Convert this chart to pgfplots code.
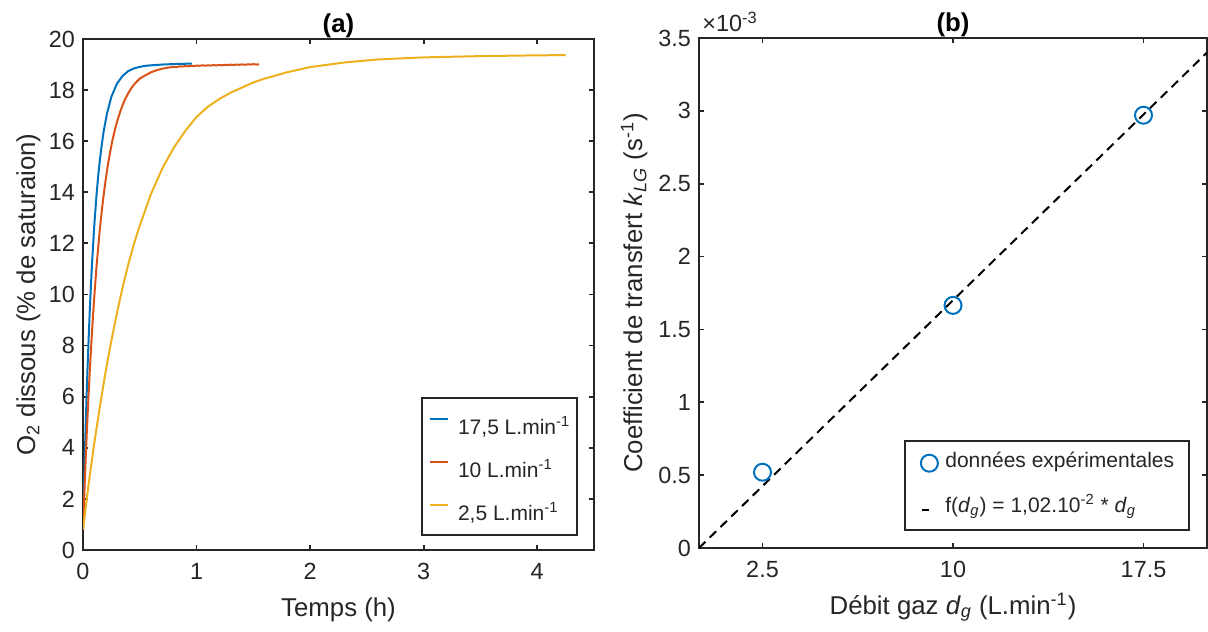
\documentclass[border=0pt]{standalone}
\usepackage{fontspec}
\setmainfont{Liberation Sans}
\usepackage{pgfplots}
\pgfplotsset{compat=1.18}
\definecolor{mblue}{rgb}{0,0.447,0.741}
\definecolor{mred}{rgb}{0.85,0.325,0.098}
\definecolor{myel}{rgb}{0.929,0.694,0.125}
\definecolor{axgray}{rgb}{0.15,0.15,0.15}
\pgfplotsset{
  mstyle/.style={
    scale only axis,
    axis line style={draw=axgray, line width=0.9pt},
    every tick/.style={draw=axgray, line width=0.9pt},
    tick align=inside,
    major tick length=2.6pt,
    tick pos=both,
    /pgf/number format/assume math mode=true,
    tick label style={font=\fontsize{11.7}{14}\selectfont, text=axgray},
    xticklabel style={yshift=-2.5pt},
    label style={font=\fontsize{12.9}{15}\selectfont, text=axgray},
    every axis title shift=0pt,
    title style={font=\bfseries\fontsize{12.9}{15}\selectfont, text=black, at={([yshift=3pt]rel axis cs:0.5,1)}, anchor=base},
    xlabel style={at={([yshift=-33pt]rel axis cs:0.5,0)}, anchor=base},
    ylabel style={anchor=base},
  }
}
\begin{document}
\fontsize{11.7}{14}\selectfont
\begin{tikzpicture}
\begin{axis}[mstyle,
  at={(41.5pt,40.5pt)}, anchor=south west,
  width=255.5pt, height=255.5pt,
  xmin=0, xmax=4.5, ymin=0, ymax=20,
  xtick={0,1,2,3,4}, ytick={0,2,4,6,8,10,12,14,16,18,20},
  xlabel={Temps (h)},
  ylabel={O\textsubscript{2} dissous (\% de saturaion)},
  ylabel style={at={([xshift=-24pt]rel axis cs:0,0.5)}},
  title={(a)},
  legend style={at={([xshift=-8pt,yshift=7pt]rel axis cs:1,0)}, anchor=south east,
    draw=axgray, line width=0.8pt, fill=white,
    font=\fontsize{10.5}{12.6}\selectfont, text=axgray,
    inner xsep=3.5pt, inner ysep=4pt, row sep=4pt, column sep=4.5pt,
    nodes={inner sep=0pt, text height=14pt, text depth=3.5pt},
    cells={anchor=west}},
  legend image code/.code={\draw[#1, line width=1pt] (0pt,2.5pt) -- (9pt,2.5pt);},
]
\addplot[mblue, line width=1pt] coordinates {
(0,0.8) (0.01,2.6) (0.02,4.29) (0.03,5.8) (0.04,7.12) (0.05,8.3) (0.06,9.41) (0.07,10.37) (0.08,11.25)
(0.09,12.0) (0.10,12.74) (0.12,13.94) (0.135,14.7) (0.15,15.32) (0.165,15.85) (0.18,16.33) (0.21,17.06)
(0.25,17.74) (0.30,18.26) (0.35,18.56) (0.40,18.75) (0.45,18.85) (0.50,18.91) (0.55,18.95)
(0.60,18.97) (0.70,19.0) (0.80,19.02) (0.90,19.03) (0.96,19.04)
};
\addlegendentry{17,5 L.min\textsuperscript{-1}}
\addplot[mred, line width=1pt] coordinates {
(0,0.8) (0.015,2.6) (0.03,4.25) (0.045,5.7) (0.06,7.04) (0.075,8.2) (0.09,9.30) (0.105,10.25) (0.12,11.14)
(0.135,11.9) (0.15,12.63) (0.165,13.25) (0.18,13.83) (0.20,14.5) (0.22,15.10) (0.24,15.6) (0.26,16.05)
(0.28,16.43) (0.30,16.77) (0.325,17.12) (0.35,17.43) (0.375,17.68) (0.40,17.89) (0.425,18.07) (0.45,18.22)
(0.475,18.34) (0.50,18.45) (0.55,18.58) (0.60,18.70) (0.65,18.78) (0.70,18.84) (0.75,18.88) (0.80,18.91)
(0.825,18.90) (0.85,18.93) (0.875,18.92) (0.90,18.94) (0.925,18.93) (0.95,18.95) (0.975,18.94) (1.00,18.96)
(1.025,18.95) (1.05,18.97) (1.075,18.955) (1.10,18.97) (1.125,18.96) (1.15,18.98) (1.175,18.965) (1.20,18.985)
(1.225,18.97) (1.25,18.99) (1.275,18.98) (1.30,18.995) (1.325,18.98) (1.35,19.0) (1.375,18.99) (1.40,19.005)
(1.425,18.99) (1.45,19.01) (1.475,19.0) (1.50,19.015) (1.525,19.0) (1.55,19.01)
};
\addlegendentry{10 L.min\textsuperscript{-1}}
\addplot[myel, line width=1pt] coordinates {
(0,0.8) (0.05,2.6) (0.1,4.2) (0.15,5.65) (0.2,7.0) (0.25,8.2) (0.3,9.3) (0.35,10.3) (0.4,11.2)
(0.45,12.0) (0.5,12.7) (0.6,13.95) (0.7,14.95) (0.8,15.75) (0.9,16.4) (1.0,16.95) (1.1,17.35)
(1.2,17.65) (1.3,17.9) (1.4,18.1) (1.5,18.3) (1.6,18.45) (1.8,18.7) (2.0,18.9) (2.3,19.08)
(2.6,19.2) (3.0,19.28) (3.5,19.33) (4.0,19.36) (4.25,19.37)
};
\addlegendentry{2,5 L.min\textsuperscript{-1}}
\end{axis}

\begin{axis}[mstyle, name=b,
  at={(349.5pt,41.5pt)}, anchor=south west,
  width=254pt, height=255pt,
  xmin=0, xmax=20, ymin=0, ymax=0.0035,
  xtick={2.5,10,17.5}, xticklabels={2.5,10,17.5},
  ytick={0,0.0005,0.001,0.0015,0.002,0.0025,0.003,0.0035},
  yticklabels={0,0.5,1,1.5,2,2.5,3,3.5},
  scaled y ticks=false,
  xlabel={Débit gaz \textit{d}\textsubscript{\textit{g}} (L.min\textsuperscript{-1})},
  ylabel={Coefficient de transfert \textit{k}\textsubscript{\textit{LG}} (s\textsuperscript{-1})},
  ylabel style={at={([xshift=-28.5pt]rel axis cs:0,0.5)}},
  title={(b)},
  legend style={at={([xshift=-8.5pt,yshift=8.5pt]rel axis cs:1,0)}, anchor=south east,
    draw=axgray, line width=0.8pt, fill=white,
    font=\fontsize{10.5}{12.6}\selectfont, text=axgray,
    inner xsep=7.5pt, inner ysep=4.5pt, row sep=9.5pt, column sep=0pt,
    nodes={inner sep=0pt, text height=8.5pt, text depth=4.5pt},
    cells={anchor=west}},
]
\addplot[mblue, only marks, mark=o, mark size=4.25pt, mark options={line width=1pt},
  legend image code/.code={\path[draw=none] (3.5pt,0pt) -- (16pt,0pt); \draw[mblue, line width=1pt] (8pt,0pt) circle (4.25pt);}]
  coordinates {(2.5,0.00052) (10,0.001665) (17.5,0.00297)};
\addlegendentry{données expérimentales}
\addplot[black, line width=1pt, dash pattern=on 4.5pt off 3pt,
  legend image code/.code={\path[draw=none] (3.25pt,0pt) -- (16pt,0pt); \draw[black, line width=1pt, solid] (4.5pt,-1pt) -- (8pt,-1pt);}]
  coordinates {(0,0) (20,0.0034)};
\addlegendentry{f(\textit{d}\textsubscript{\textit{g}}) = 1,02.10\textsuperscript{-2} * \textit{d}\textsubscript{\textit{g}}}
\end{axis}
\node[anchor=base west, inner sep=0pt, text=axgray, font=\fontsize{11.7}{14}\selectfont] at ([xshift=1.5pt,yshift=3pt]b.north west) {×10\textsuperscript{-3}};
\pgfresetboundingbox
\path (0pt,0pt) rectangle (604pt,315.5pt);
\end{tikzpicture}
\end{document}
